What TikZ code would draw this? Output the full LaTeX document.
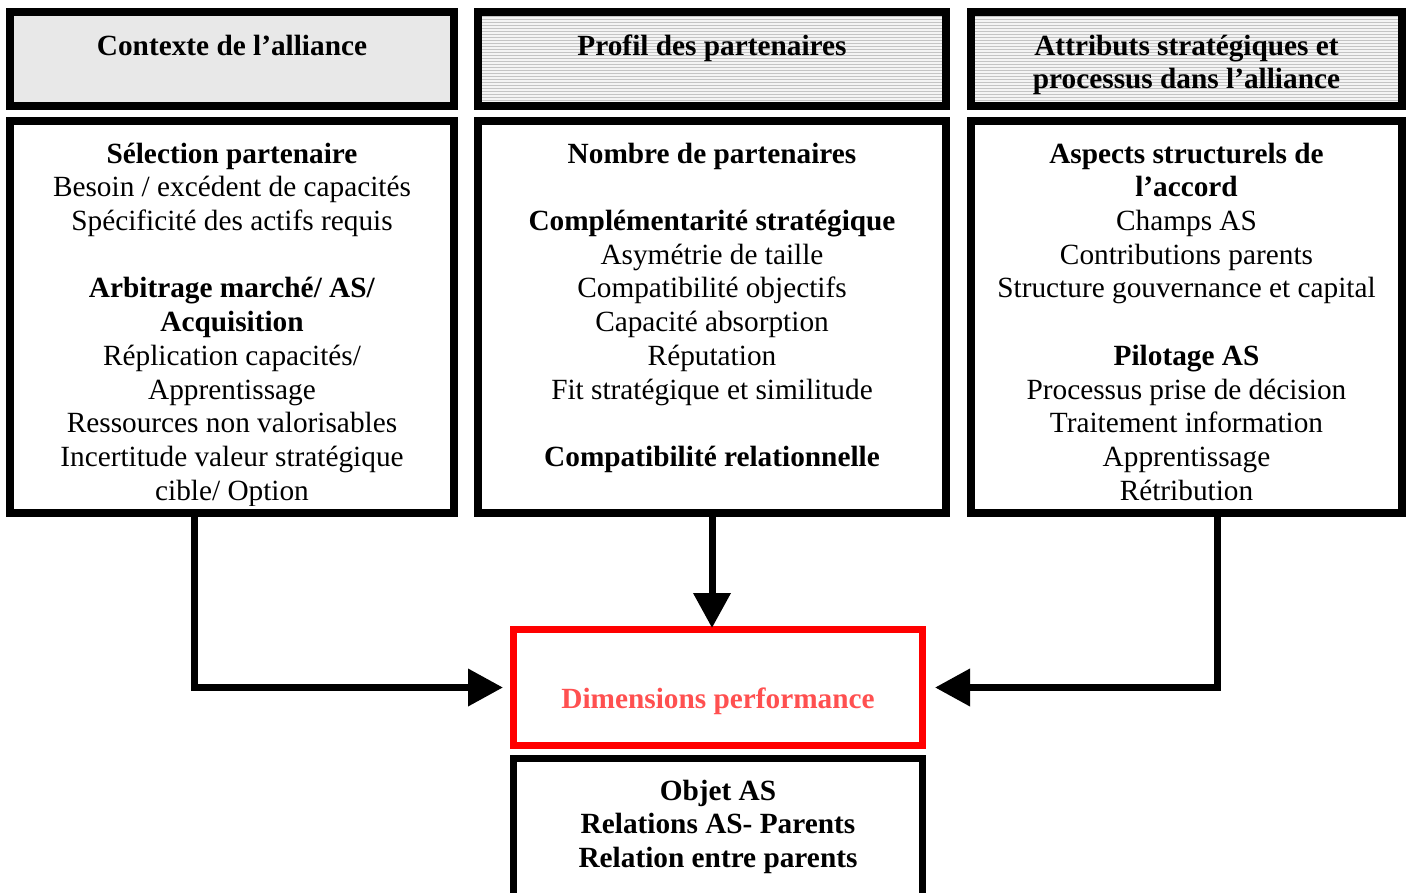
\documentclass[tikz,border=0pt]{standalone}
\usepackage{fontspec}
\setmainfont{Liberation Serif}
\usetikzlibrary{arrows.meta,calc}
\definecolor{hdrgray}{HTML}{E8E8E8}
\definecolor{stripebg}{HTML}{F4F4F4}
\definecolor{stripeln}{HTML}{C4C4C4}
\definecolor{perfred}{HTML}{FF0000}
\definecolor{perftext}{HTML}{FF5050}
\begin{document}
\begin{tikzpicture}[x=1pt,y=-1pt,
  box/.style={draw=black,line width=8pt,rectangle,inner sep=0pt,outer sep=0pt},
  striped/.style={fill=stripebg,path picture={
      \foreach \k in {0,...,40}{
        \draw[stripeln,line width=1.1pt]
          ($(path picture bounding box.north west)+(0,1.5+3*\k)$) -- ++(500,0);}}},
  txt/.style={anchor=north,inner sep=0pt,align=center,
    font=\fontsize{29.3pt}{33.7pt}\selectfont},
  btxt/.style={txt,font=\fontsize{29.3pt}{33.7pt}\selectfont\bfseries},
  link/.style={line width=7pt,line join=miter,
    -{Triangle[length=35pt,width=36pt]}}
]
\useasboundingbox (0,0) rectangle (1407,893);
\clip (0,0) rectangle (1407,893);

% header boxes
\node[box,fill=hdrgray,minimum width=444pt,minimum height=94pt] (h1) at (232,59) {};
\node[box,striped,minimum width=468pt,minimum height=94pt] (h2) at (712,59) {};
\node[box,striped,minimum width=431pt,minimum height=94pt] (h3) at (1186.5,59) {};

\node[btxt] (th1) at ($(h1.north)+(0,19.4)$) {\strut Contexte de l’alliance};
\node[btxt] (th2) at ($(h2.north)+(0,19.4)$) {\strut Profil des partenaires};
\node[btxt] (th3) at ($(h3.north)+(0,19.4)$) {\strut Attributs stratégiques et\\ processus dans l’alliance};

% content boxes
\node[box,minimum width=444pt,minimum height=392pt] (c1) at (232,317) {};
\node[box,minimum width=468pt,minimum height=392pt] (c2) at (712,317) {};
\node[box,minimum width=431pt,minimum height=392pt] (c3) at (1186.5,317) {};

\begin{scope}
\clip ($(c1.north west)+(4,4)$) rectangle ($(c1.south east)+(-4,-8)$);
\node[txt] (tc1) at ($(c1.north)+(0,18.4)$) {\strut\textbf{Sélection partenaire}\\
  Besoin / excédent de capacités\\
  Spécificité des actifs requis\\
  ~\\
  \textbf{Arbitrage marché/ AS/}\\
  \textbf{Acquisition}\\
  Réplication capacités/\\
  Apprentissage\\
  Ressources non valorisables\\
  Incertitude valeur stratégique\\
  cible/ Option};
\end{scope}

\node[txt] (tc2) at ($(c2.north)+(0,18.4)$) {\strut\textbf{Nombre de partenaires}\\
  ~\\
  \textbf{Complémentarité stratégique}\\
  Asymétrie de taille\\
  Compatibilité objectifs\\
  Capacité absorption\\
  Réputation\\
  Fit stratégique et similitude\\
  ~\\
  \textbf{Compatibilité relationnelle}};

\node[txt] (tc3) at ($(c3.north)+(0,18.4)$) {\strut\textbf{Aspects structurels de}\\
  \textbf{l’accord}\\
  Champs AS\\
  Contributions parents\\
  Structure gouvernance et capital\\
  ~\\
  \textbf{Pilotage AS}\\
  Processus prise de décision\\
  Traitement information\\
  Apprentissage\\
  Rétribution};

% performance box and the box below it
\node[box,draw=perfred,line width=7pt,minimum width=409pt,minimum height=116pt] (red) at (718,687.5) {};
\node[anchor=base,inner sep=0pt,text=perftext,
  font=\fontsize{29.3pt}{33.7pt}\selectfont\bfseries] (tred) at ($(red.north)+(0,78.5)$) {Dimensions performance};

\node[box,line width=7pt,minimum width=409pt,minimum height=171.5pt] (bot) at (718,844.25) {};
\node[btxt] (tbot) at ($(bot.north)+(0,17.9)$) {\strut Objet AS\\ Relations AS- Parents\\ Relation entre parents};

% connectors
\draw[link,shorten >=10.5pt] ([xshift=-37.5pt]c1.south) |- (red.west);
\draw[link,shorten >=1.5pt] (c2.south) -- (c2.south |- red.north);
\draw[link,shorten >=12.5pt] ([xshift=31pt]c3.south) |- (red.east);
\end{tikzpicture}
\end{document}
